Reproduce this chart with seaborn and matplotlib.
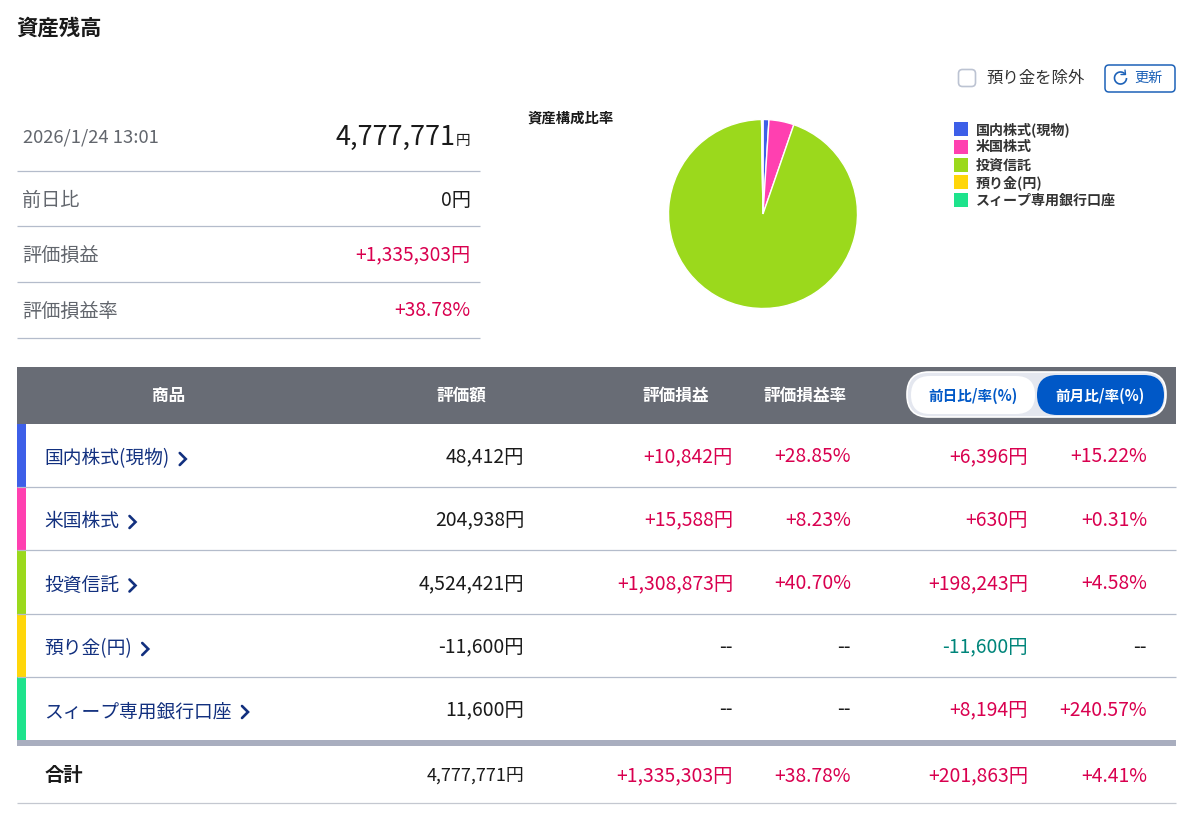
import matplotlib
matplotlib.use("Agg")
import matplotlib.pyplot as plt
from matplotlib.patches import FancyBboxPatch, Rectangle, Arc
import seaborn as sns

sns.set_theme(style="white")
plt.rcParams["font.family"] = ["Noto Sans CJK JP", "DejaVu Sans"]

# Holdings table
categories = ["国内株式(現物)", "米国株式", "投資信託", "預り金(円)", "スィープ専用銀行口座"]
pie_values = [48412, 204938, 4524421, 0, 11600]
valuation = ["48,412円", "204,938円", "4,524,421円", "-11,600円", "11,600円"]
gain = ["+10,842円", "+15,588円", "+1,308,873円", "--", "--"]
gain_rate = ["+28.85%", "+8.23%", "+40.70%", "--", "--"]
month_diff = ["+6,396円", "+630円", "+198,243円", "-11,600円", "+8,194円"]
month_rate = ["+15.22%", "+0.31%", "+4.58%", "--", "+240.57%"]
total_row = ["4,777,771円", "+1,335,303円", "+38.78%", "+201,863円", "+4.41%"]
colors = sns.color_palette(["#3d5fe8", "#ff40b0", "#9bd91c", "#ffd60a", "#1ee38c"])

# Summary block
summary_labels = ["前日比", "評価損益", "評価損益率"]
summary_values = ["0円", "+1,335,303円", "+38.78%"]

RED = "#d9004f"
TEAL = "#00857a"
NAVY = "#12307f"
BLACK = "#1a1a1a"
GREY = "#62666d"
LINE = "#b4bccb"


def value_color(s):
    if s.startswith("+"):
        return RED
    return BLACK


fig = plt.figure(figsize=(11.99, 8.15), dpi=100)
ax = fig.add_axes([0, 0, 1, 1])
ax.set_xlim(0, 1199)
ax.set_ylim(815, 0)
ax.axis("off")

ax.text(16.5, 28.5, "資産残高", fontsize=15.4, fontweight="bold", color=BLACK, va="center")

# checkbox and refresh button
ax.add_patch(FancyBboxPatch((958.5, 69.5), 17, 17, boxstyle="round,pad=0,rounding_size=4",
                            fc="white", ec="#bcc3d2", lw=1.2))
ax.text(986.5, 78, "預り金を除外", fontsize=11.8, color="#333333", va="center")
ax.add_patch(FancyBboxPatch((1105, 65), 70, 27, boxstyle="round,pad=0,rounding_size=4",
                            fc="white", ec="#1d62b8", lw=1.1))
ax.add_patch(Arc((1120.5, 78), 12, 12, theta1=0, theta2=315, ec="#1d62b8", lw=1.2))
ax.plot([1125, 1125.5, 1121], [70, 74.5, 74.5], color="#1d62b8", lw=1)
ax.text(1148.5, 78, "更新", fontsize=10.2, color="#1d62b8", va="center", ha="center")

# summary on the left
ax.text(23, 137.5, "2026/1/24 13:01", fontsize=13.3, color=GREY, va="center")
ax.text(455, 137.5, "4,777,771", fontsize=19.5, color=BLACK, va="center", ha="right")
ax.text(470, 141.5, "円", fontsize=10.5, color=BLACK, va="center", ha="right")
ax.hlines([171, 226, 282, 338], 17, 480, color=LINE, lw=0.9)
for y, lab, val in zip([200, 255, 311], summary_labels, summary_values):
    ax.text(22, y, lab, fontsize=13.8, color=GREY, va="center")
    ax.text(470.5, y, val, fontsize=13.8, color=value_color(val), va="center", ha="right")

# pie
ax.text(528, 119, "資産構成比率", fontsize=10.35, fontweight="bold", color=BLACK, va="center")
r = 94.5
pie_ax = fig.add_axes([(763 - r) / 1199, 1 - (214 + r) / 815, 2 * r / 1199, 2 * r / 815])
pie_ax.pie(pie_values, colors=colors, startangle=90, counterclock=False,
           wedgeprops={"edgecolor": "white", "linewidth": 1.0})
pie_ax.set_xlim(-1, 1)
pie_ax.set_ylim(-1, 1)

# legend
for i, (name, c) in enumerate(zip(categories, colors)):
    y = 129 + i * 17.8
    ax.add_patch(Rectangle((954, y - 7), 13.5, 14, fc=c, ec="none"))
    ax.text(976, y + 0.5, name, fontsize=10.1, fontweight="bold", color="#333333", va="center")

# table header
ax.add_patch(Rectangle((17, 367), 1159, 57, fc="#686c75", ec="none"))
for x, lab in zip([169, 461, 676, 805], ["商品", "評価額", "評価損益", "評価損益率"]):
    ax.text(x, 395.5, lab, fontsize=12, fontweight="bold", color="white", va="center", ha="center")

ax.add_patch(FancyBboxPatch((907, 372), 259, 45, boxstyle="round,pad=0,rounding_size=22",
                            fc="#e4e7ef", ec="white", lw=1.2))
ax.add_patch(FancyBboxPatch((911, 376), 124, 38, boxstyle="round,pad=0,rounding_size=19",
                            fc="white", ec="none"))
ax.add_patch(FancyBboxPatch((1037, 375), 127, 40, boxstyle="round,pad=0,rounding_size=20",
                            fc="#0058c7", ec="none"))
ax.text(973, 395.5, "前日比/率(%)", fontsize=10.5, fontweight="bold", color="#0058c7", va="center", ha="center")
ax.text(1100, 395.5, "前月比/率(%)", fontsize=10.5, fontweight="bold", color="white", va="center", ha="center")

# table rows
row_edges = [424, 487, 550, 614, 677, 740]
col_right = [524, 733, 851, 1028, 1147]
fig.canvas.draw()
renderer = fig.canvas.get_renderer()
for i, name in enumerate(categories):
    top, bottom = row_edges[i], row_edges[i + 1]
    mid = (top + bottom) / 2 + 1.5
    ax.add_patch(Rectangle((17, top), 9, bottom - top, fc=colors[i], ec="none"))
    if i < 4:
        ax.hlines(bottom, 17, 1176, color=LINE, lw=0.9, zorder=3)
    t = ax.text(44.5, mid + 2, name, fontsize=13.5, color=NAVY, va="center")
    # chevron sits just after the label
    bb = t.get_window_extent(renderer)
    cx = bb.x1 + 10
    ax.plot([cx, cx + 6, cx], [mid - 4, mid + 2, mid + 8], color=NAVY, lw=1.9,
            solid_capstyle="round", solid_joinstyle="miter")
    row = [valuation[i], gain[i], gain_rate[i], month_diff[i], month_rate[i]]
    for j, (x, val) in enumerate(zip(col_right, row)):
        c = value_color(val)
        if j == 3 and val.startswith("-"):
            c = TEAL
        ax.text(x, mid, val, fontsize=13.9, color=c, va="center", ha="right")

# total row
ax.add_patch(Rectangle((17, 740), 1159, 5.5, fc="#a9aebf", ec="none"))
ax.text(45, 775.5, "合計", fontsize=13.9, fontweight="bold", color=BLACK, va="center")
for j, (x, val) in enumerate(zip(col_right, total_row)):
    ax.text(x, 776, val, fontsize=12.9 if j == 0 else 13.9, color=value_color(val), va="center", ha="right")
ax.hlines(803, 17, 1176, color="#c4c8d0", lw=0.9)

fig.savefig("out.png", dpi=100)
